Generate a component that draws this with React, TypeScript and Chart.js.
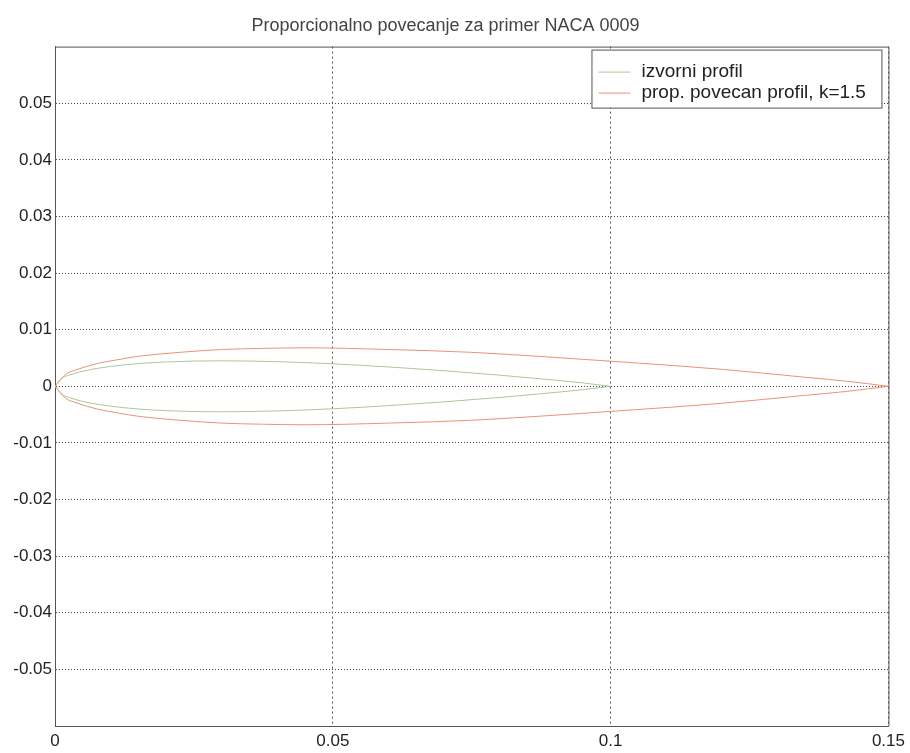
import React, { useEffect, useRef } from "react";
import { Chart, registerables } from "chart.js";

Chart.register(...registerables);

const titleText = "Proporcionalno povecanje za primer NACA 0009";
const legendLabels = ["izvorni profil", "prop. povecan profil, k=1.5"];
const xTicks = [0, 0.05, 0.1, 0.15];
const yTicks = [-0.05, -0.04, -0.03, -0.02, -0.01, 0, 0.01, 0.02, 0.03, 0.04, 0.05];

// original profile (chord 0.1)
const origX = [0, 0.00125, 0.0025, 0.005, 0.0075, 0.01, 0.015, 0.02, 0.025, 0.03, 0.04, 0.05, 0.06, 0.07, 0.08, 0.09, 0.095, 0.1];
const origUpper = [0, 0.00142, 0.00196, 0.00267, 0.00315, 0.00351, 0.00401, 0.0043, 0.00446, 0.0045, 0.00435, 0.00397, 0.00342, 0.00275, 0.00197, 0.00109, 0.0006, 0];
const origLower = [0, -0.00142, -0.00196, -0.00267, -0.00315, -0.00351, -0.00401, -0.0043, -0.00446, -0.0045, -0.00435, -0.00397, -0.00342, -0.00275, -0.00197, -0.00109, -0.0006, 0];

// enlarged profile (k = 1.5)
const bigX = [0, 0.0019, 0.0038, 0.0075, 0.0113, 0.015, 0.0225, 0.03, 0.0375, 0.045, 0.06, 0.075, 0.09, 0.105, 0.12, 0.135, 0.1425, 0.15];
const bigUpper = [0, 0.0021, 0.0029, 0.004, 0.0047, 0.0053, 0.006, 0.0065, 0.0067, 0.0068, 0.0065, 0.006, 0.0051, 0.0041, 0.003, 0.0016, 0.0009, 0];
const bigLower = [0, -0.0021, -0.0029, -0.004, -0.0047, -0.0053, -0.006, -0.0065, -0.0067, -0.0068, -0.0065, -0.006, -0.0051, -0.0041, -0.003, -0.0016, -0.0009, 0];

const GREEN = "#a9c79f";
const ORANGE = "#e8937a";
const FONT = "'Liberation Sans', Arial, sans-serif";

const pts = (xs: number[], ys: number[]) => xs.map((x, i) => ({ x, y: ys[i] }));

const fmt = (v: number) => String(Number(Number(v).toFixed(4)));

const boxPlugin = {
  id: "boxAndLegend",
  afterDraw(chart: any) {
    const { ctx, chartArea } = chart;
    const { left, right, top, bottom } = chartArea;
    ctx.save();
    ctx.strokeStyle = "#555";
    ctx.lineWidth = 1;
    ctx.setLineDash([]);
    ctx.beginPath();
    ctx.moveTo(left, top + 0.5);
    ctx.lineTo(right + 0.5, top + 0.5);
    ctx.lineTo(right + 0.5, bottom);
    ctx.stroke();

    // legend
    const bw = 290;
    const bh = 58;
    const bx = right - 7 - bw;
    const by = top + 3;
    ctx.fillStyle = "#ffffff";
    ctx.fillRect(bx, by, bw, bh);
    ctx.strokeStyle = "#555";
    ctx.strokeRect(bx + 0.5, by + 0.5, bw, bh);
    const colors = [GREEN, ORANGE];
    ctx.font = `19px ${FONT}`;
    ctx.textBaseline = "middle";
    ctx.textAlign = "left";
    legendLabels.forEach((lab, i) => {
      const ry = by + 22 + i * 21;
      ctx.strokeStyle = colors[i];
      ctx.beginPath();
      ctx.moveTo(bx + 7, ry + 0.5);
      ctx.lineTo(bx + 39, ry + 0.5);
      ctx.stroke();
      ctx.fillStyle = "#222";
      ctx.fillText(lab, bx + 50, ry);
    });
    ctx.restore();
  },
};

export default function App() {
  const ref = useRef<HTMLCanvasElement | null>(null);
  useEffect(() => {
    if (!ref.current) return;
    const lineDs = (label: string, xs: number[], ys: number[], color: string) => ({
      label,
      data: pts(xs, ys),
      showLine: true,
      borderColor: color,
      backgroundColor: color,
      borderWidth: 1,
      pointRadius: 0,
      cubicInterpolationMode: "monotone" as const,
      fill: false,
    });
    const chart = new Chart(ref.current, {
      type: "scatter",
      data: {
        datasets: [
          lineDs(legendLabels[1], bigX, bigUpper, ORANGE),
          lineDs(legendLabels[1], bigX, bigLower, ORANGE),
          lineDs(legendLabels[0], origX, origUpper, GREEN),
          lineDs(legendLabels[0], origX, origLower, GREEN),
        ],
      },
      options: {
        animation: false,
        responsive: true,
        maintainAspectRatio: false,
        layout: { padding: { left: 0, right: 19, top: 0, bottom: 0 } },
        plugins: {
          legend: { display: false },
          tooltip: { enabled: false },
          title: {
            display: true,
            text: titleText,
            color: "#444",
            font: { family: FONT, size: 18, weight: "normal" },
            padding: { top: 15, bottom: 10 },
          },
        },
        scales: {
          x: {
            type: "linear",
            min: 0,
            max: 0.15,
            afterBuildTicks: (s: any) => {
              s.ticks = xTicks.map((v) => ({ value: v }));
            },
            afterFit: (s: any) => {
              s.height = 27;
            },
            grid: { color: "#555", drawTicks: false, lineWidth: 1 },
            border: { display: true, color: "#555", dash: [2, 3] },
            ticks: {
              color: "#222",
              font: { family: FONT, size: 17 },
              padding: 5,
              maxRotation: 0,
              callback: (v: any) => fmt(v),
            },
          },
          y: {
            type: "linear",
            min: -0.06,
            max: 0.06,
            afterBuildTicks: (s: any) => {
              s.ticks = yTicks.map((v) => ({ value: v }));
            },
            afterFit: (s: any) => {
              s.width = 55;
            },
            grid: { color: "#444", drawTicks: false, lineWidth: 1 },
            border: { display: true, color: "#555", dash: [1, 2] },
            ticks: {
              color: "#222",
              font: { family: FONT, size: 17 },
              padding: 3,
              callback: (v: any) => fmt(v),
            },
          },
        },
      },
      plugins: [boxPlugin],
    });
    return () => chart.destroy();
  }, []);

  return (
    <div style={{ position: "fixed", left: 0, top: 0, width: 910, height: 753, background: "#fff" }}>
      <canvas ref={ref} />
    </div>
  );
}
